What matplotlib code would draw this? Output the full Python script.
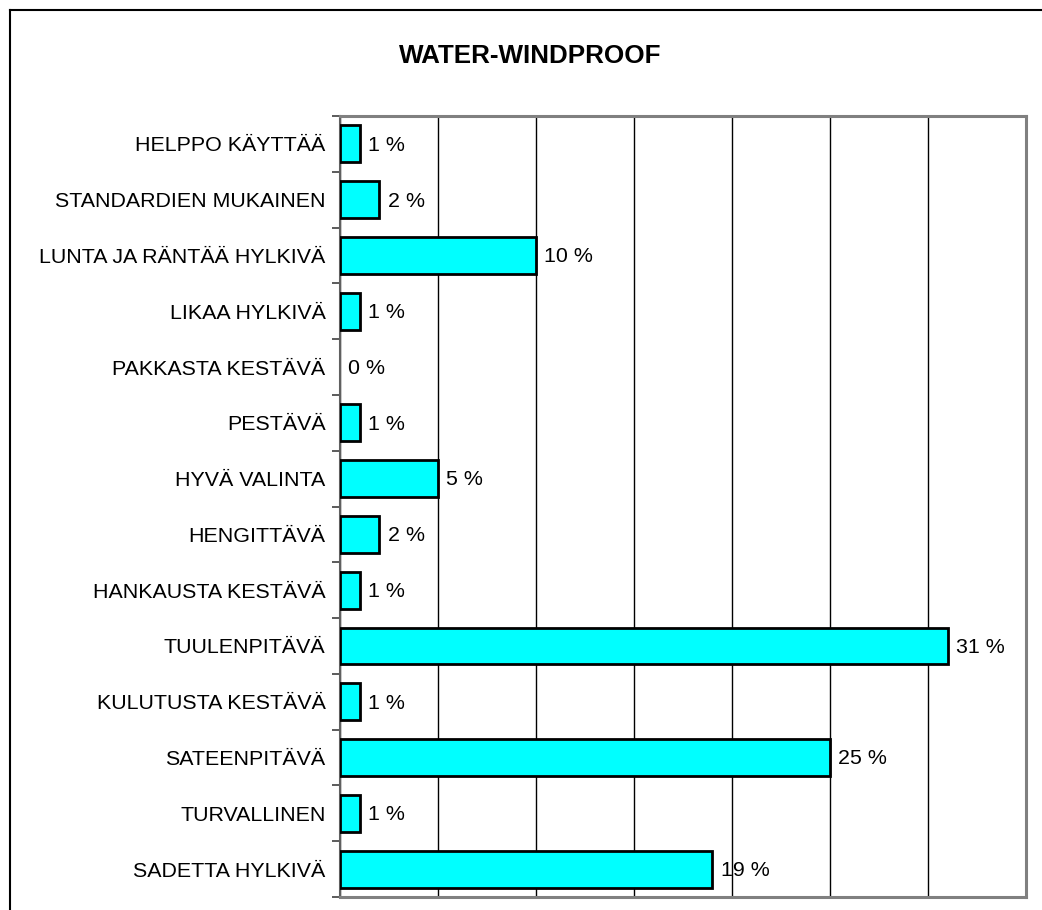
import numpy as np
import matplotlib
matplotlib.use('Agg')
import matplotlib.pyplot as plt
from matplotlib.lines import Line2D

# Data (ylhäältä alas)
kategoriat = ["HELPPO KÄYTTÄÄ", "STANDARDIEN MUKAINEN", "LUNTA JA RÄNTÄÄ HYLKIVÄ",
              "LIKAA HYLKIVÄ", "PAKKASTA KESTÄVÄ", "PESTÄVÄ", "HYVÄ VALINTA",
              "HENGITTÄVÄ", "HANKAUSTA KESTÄVÄ", "TUULENPITÄVÄ", "KULUTUSTA KESTÄVÄ",
              "SATEENPITÄVÄ", "TURVALLINEN", "SADETTA HYLKIVÄ"]
prosentit = [1, 2, 10, 1, 0, 1, 5, 2, 1, 31, 1, 25, 1, 19]
otsikko = "WATER-WINDPROOF"

plt.rcParams['font.family'] = ['Liberation Sans', 'DejaVu Sans']

fig = plt.figure(figsize=(10.42, 9.10), dpi=100)
ax = fig.add_axes([340 / 1042, 1 - 897 / 910, 686 / 1042, 781 / 910])

y = np.arange(len(kategoriat))
reunat = [2 if v > 0 else 0 for v in prosentit]  # nollapalkille ei reunaviivaa
ax.barh(y, prosentit, height=0.66, color='#00FFFF', edgecolor='black', linewidth=reunat, zorder=3)

for yi, v in zip(y, prosentit):
    ax.annotate(f"{v} %", (v, yi), xytext=(6, -1), textcoords='offset points',
                va='center', ha='left', fontsize=15.4, zorder=4)

ax.set_xlim(0, 35)
ax.set_ylim(len(kategoriat) - 0.5, -0.5)

# Pystysuorat apuviivat
ax.set_xticks(np.arange(0, 36, 5))
ax.xaxis.grid(True, color='black', linewidth=1)
ax.tick_params(axis='x', length=0, labelbottom=False)
ax.set_axisbelow(True)

# y-akselin nimet ja väliviivat
ax.set_yticks(y)
ax.set_yticklabels(kategoriat, fontsize=15.4)
ax.tick_params(axis='y', which='major', length=0, pad=10.5)
ax.set_yticks(np.arange(-0.5, len(kategoriat)), minor=True)
ax.tick_params(axis='y', which='minor', length=6, width=1.2, color='#404040')

for s in ax.spines.values():
    s.set_color('#808080')
    s.set_linewidth(2.2)
ax.spines['left'].set_color('#606060')
ax.spines['left'].set_linewidth(1.5)

fig.text(530 / 1042, 1 - 56 / 910, otsikko, ha='center', va='center',
         fontsize=18.7, fontweight='bold')

# Kuvan reunaviivat
fig.add_artist(Line2D([10 / 1042, 10 / 1042], [0, 1 - 10 / 910], transform=fig.transFigure,
                      color='black', linewidth=1.5))
fig.add_artist(Line2D([10 / 1042, 1], [1 - 10 / 910, 1 - 10 / 910], transform=fig.transFigure,
                      color='black', linewidth=1.5))

fig.savefig('out.png', dpi=100)
